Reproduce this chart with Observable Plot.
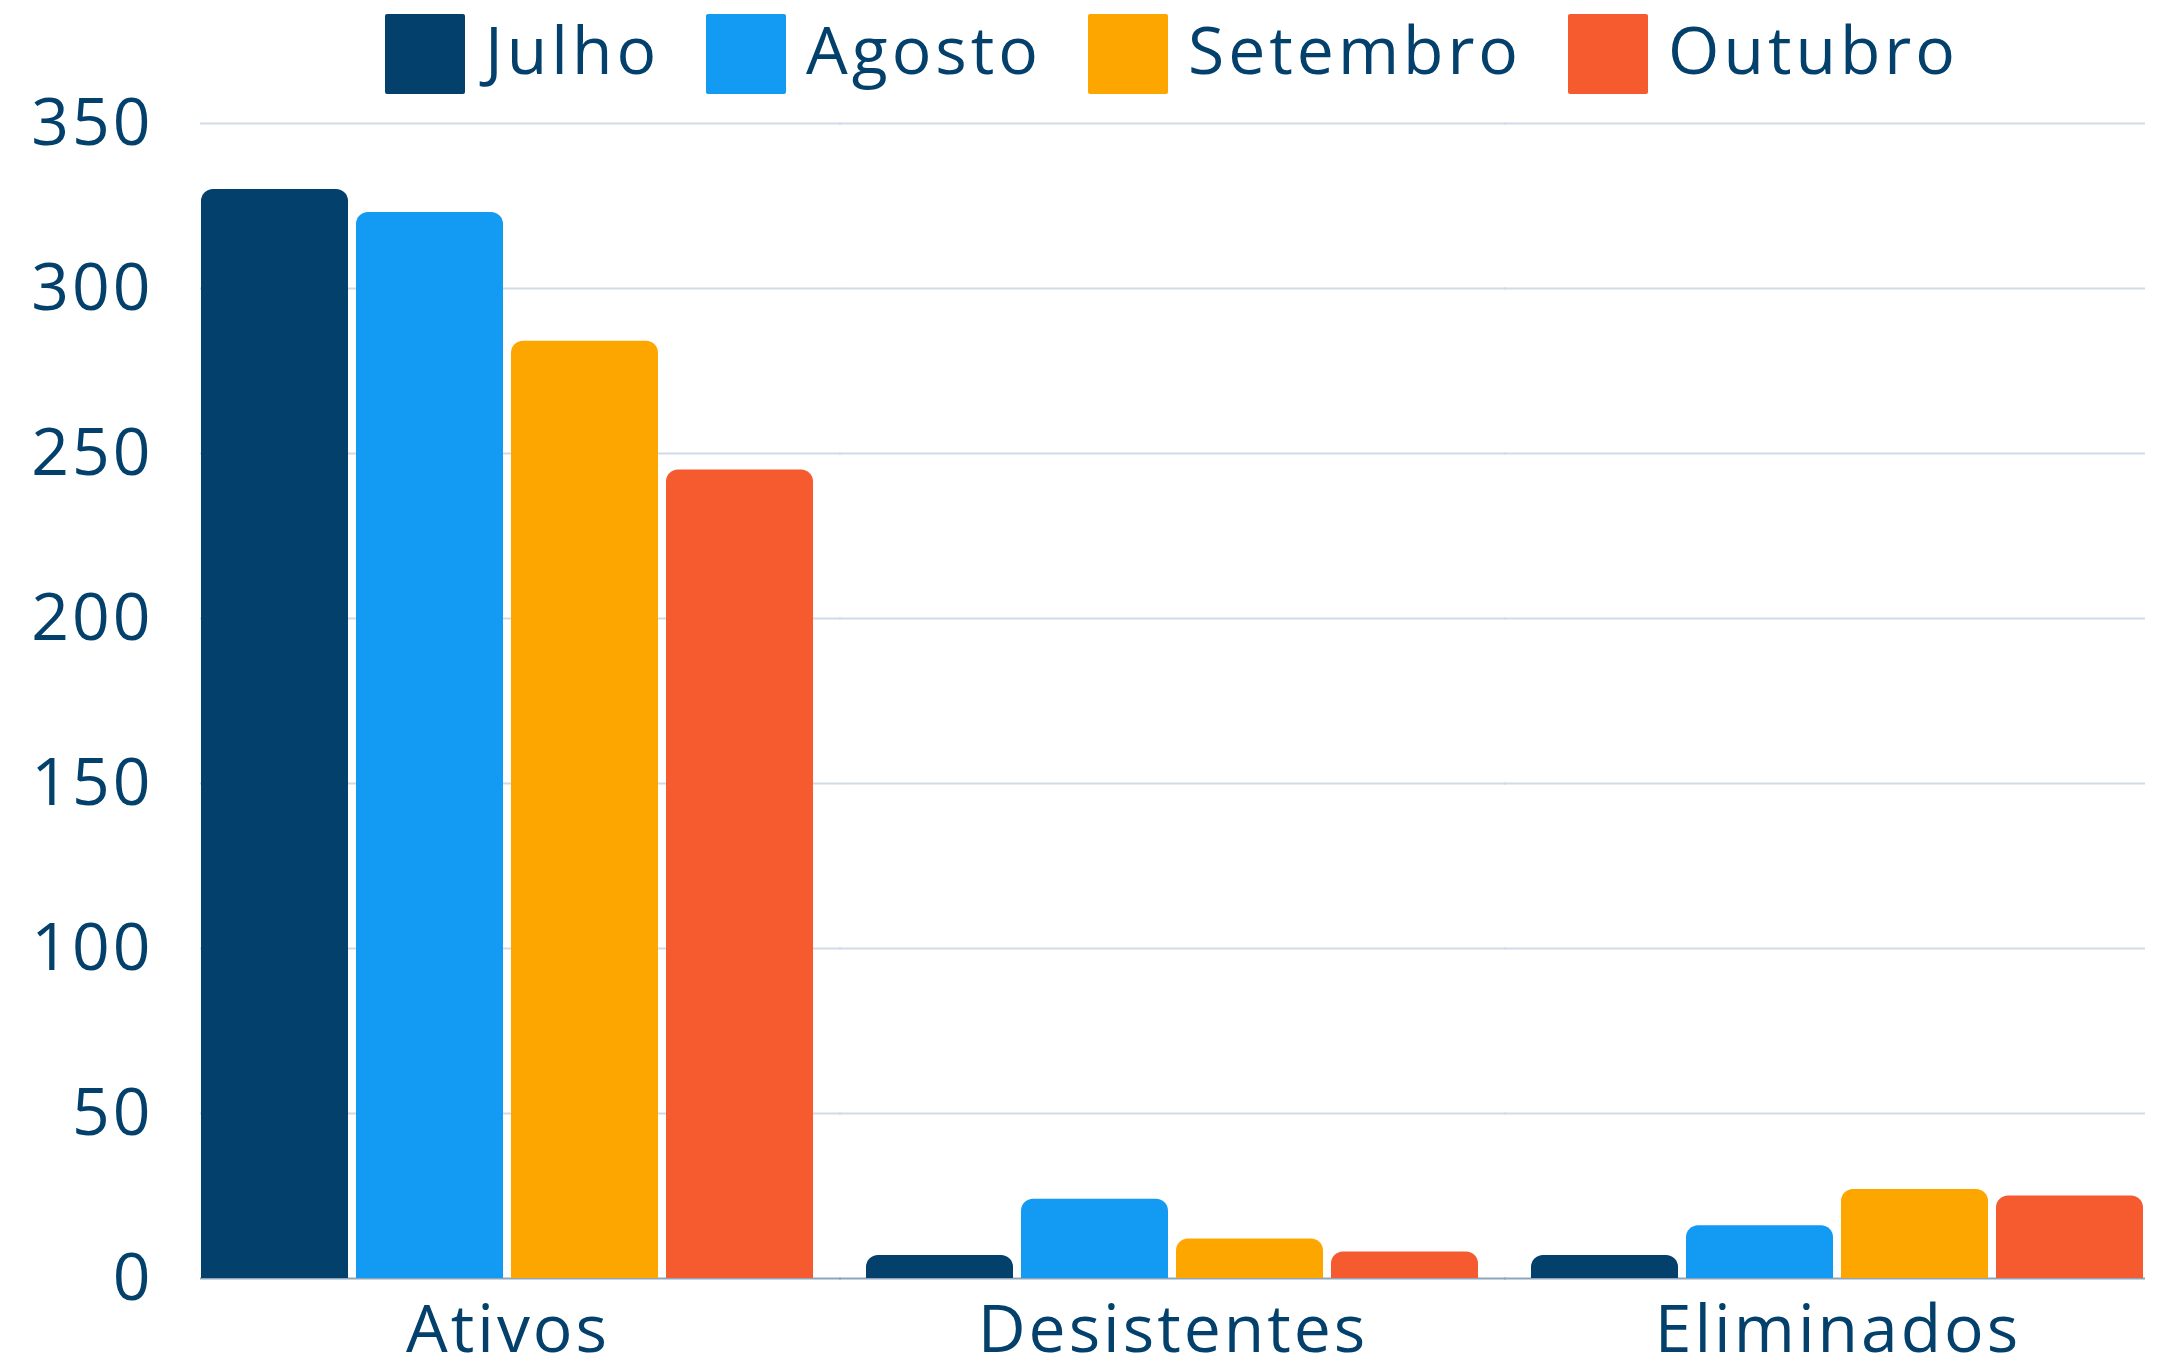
<!DOCTYPE html>
<html>
<head>
<meta charset="utf-8">
<script src="https://cdn.jsdelivr.net/npm/d3@7"></script>
<script src="https://cdn.jsdelivr.net/npm/@observablehq/plot@0.6"></script>
<style>
  html, body { margin: 0; padding: 0; background: #fff; }
  body { width: 2168px; height: 1370px; overflow: hidden; font-family: "Open Sans", sans-serif; color: #03406b; }
  #legend { height: 80px; width: 2168px; box-sizing: border-box; padding-left: 176px; display: flex; justify-content: center; align-items: flex-start; position: relative; z-index: 2; }
  .item { display: flex; align-items: center; margin: 14px 23px 0 23px; }
  .sw { width: 80px; height: 80px; border-radius: 2px; margin-right: 20px; }
  .lab { font-size: 66px; letter-spacing: 4px; line-height: 80px; position: relative; top: -6px; }
  #chart svg { display: block; overflow: visible; }
</style>
</head>
<body>
<div id="legend"></div>
<div id="chart"></div>
<script>
const groups = ["Ativos", "Desistentes", "Eliminados"];
const months = ["Julho", "Agosto", "Setembro", "Outubro"];
const colors = ["#03406b", "#139af3", "#fea600", "#f55b2e"];
const julho = [330, 7, 7];
const agosto = [323, 24, 16];
const setembro = [284, 12, 27];
const outubro = [245, 8, 25];
const yTicks = [0, 50, 100, 150, 200, 250, 300, 350];

const series = [julho, agosto, setembro, outubro];
const data = groups.flatMap((g, gi) => months.map((m, mi) => ({group: g, month: m, value: series[mi][gi]})));

// legend
const legend = document.getElementById("legend");
months.forEach((m, i) => {
  const it = document.createElement("div");
  it.className = "item";
  const sw = document.createElement("div");
  sw.className = "sw";
  sw.style.background = colors[i];
  const lab = document.createElement("span");
  lab.className = "lab";
  lab.textContent = m;
  it.appendChild(sw); it.appendChild(lab);
  legend.appendChild(it);
});

// horizontal rules bridged across the gaps between the facet groups
function bridged(values, style) {
  const last = groups.length - 1;
  return groups.map((g, i) => Plot.ruleY(values, {
    y: d => d,
    fx: () => g,
    insetLeft: i > 0 ? -26 : 0,
    insetRight: i < last ? -26 : 0,
    ...style
  }));
}

const chart = Plot.plot({
  width: 2168,
  height: 1290,
  marginTop: 43,
  marginBottom: 92,
  marginLeft: 200,
  marginRight: 22,
  style: {fontFamily: "Open Sans", fontSize: "66px", color: "#03406b", background: "transparent", letterSpacing: "3px", overflow: "visible"},
  fx: {domain: groups, paddingInner: 0.075, paddingOuter: 0, label: null},
  x: {domain: months, paddingInner: 0.05, paddingOuter: 0, axis: null},
  y: {domain: [0, 350], label: null},
  color: {domain: months, range: colors},
  marks: [
    ...bridged(yTicks.slice(1), {stroke: "#cfdbe6", strokeWidth: 2}),
    ...bridged([0], {stroke: "#8ea6bc", strokeWidth: 2}),
    Plot.barY(data, {fx: "group", x: "month", y: "value", fill: "month", ry1: 12}),
    Plot.axisY(yTicks, {tickSize: 0, tickPadding: 47, fontSize: 66, fill: "#03406b", label: null}),
    Plot.axisFx({anchor: "bottom", tickSize: 0, tickPadding: 27, fontSize: 66, fill: "#03406b", label: null, letterSpacing: "4px"})
  ]
});
document.getElementById("chart").appendChild(chart);
</script>
</body>
</html>
